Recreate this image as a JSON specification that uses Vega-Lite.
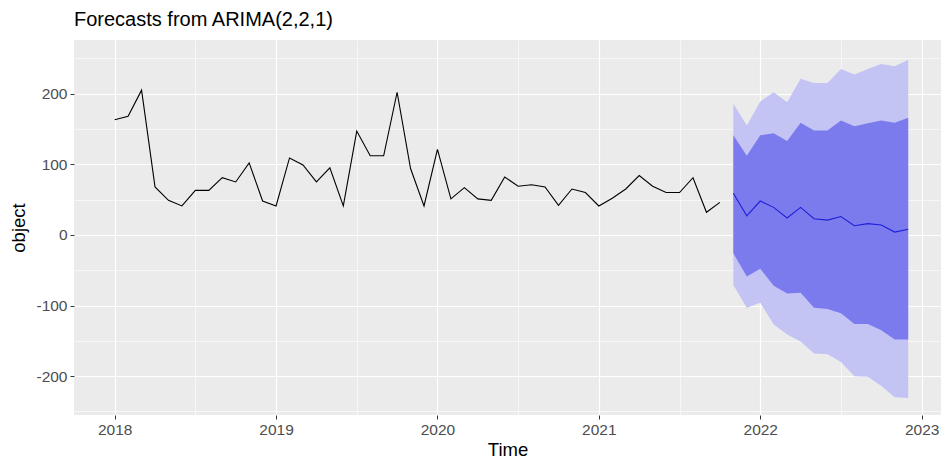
{
  "$schema": "https://vega.github.io/schema/vega-lite/v6.json",
  "width": 867,
  "height": 375,
  "autosize": {"type": "none"},
  "padding": {"left": 74, "top": 40, "right": 0, "bottom": 48},
  "background": "white",
  "title": {"text": "Forecasts from ARIMA(2,2,1)", "anchor": "start", "frame": "group", "font": "Liberation Sans", "fontSize": 20, "fontWeight": "normal", "color": "#000000", "offset": 10},
  "config": {
    "view": {"fill": "#EBEBEB", "stroke": null},
    "axis": {"labelFont": "Liberation Sans", "titleFont": "Liberation Sans", "labelFontSize": 15.5, "labelColor": "#4D4D4D", "titleFontSize": 18.5, "titleFontWeight": "normal", "titleColor": "#000000", "domain": false, "tickColor": "#333333", "tickSize": 4, "gridColor": "#FFFFFF"}
  },
  "resolve": {"axis": {"y": "independent"}},
  "datasets": {
    "hist": [
      {"t": 2018.0000, "v": 163}, {"t": 2018.0833, "v": 168}, {"t": 2018.1667, "v": 205}, {"t": 2018.2500, "v": 68},
      {"t": 2018.3333, "v": 49}, {"t": 2018.4167, "v": 41}, {"t": 2018.5000, "v": 63}, {"t": 2018.5833, "v": 63},
      {"t": 2018.6667, "v": 81}, {"t": 2018.7500, "v": 75}, {"t": 2018.8333, "v": 102}, {"t": 2018.9167, "v": 48},
      {"t": 2019.0000, "v": 41}, {"t": 2019.0833, "v": 109}, {"t": 2019.1667, "v": 99}, {"t": 2019.2500, "v": 75},
      {"t": 2019.3333, "v": 95}, {"t": 2019.4167, "v": 41}, {"t": 2019.5000, "v": 147}, {"t": 2019.5833, "v": 112},
      {"t": 2019.6667, "v": 112}, {"t": 2019.7500, "v": 202}, {"t": 2019.8333, "v": 94}, {"t": 2019.9167, "v": 41},
      {"t": 2020.0000, "v": 121}, {"t": 2020.0833, "v": 51}, {"t": 2020.1667, "v": 67}, {"t": 2020.2500, "v": 51},
      {"t": 2020.3333, "v": 49}, {"t": 2020.4167, "v": 82}, {"t": 2020.5000, "v": 69}, {"t": 2020.5833, "v": 71},
      {"t": 2020.6667, "v": 68}, {"t": 2020.7500, "v": 42}, {"t": 2020.8333, "v": 65}, {"t": 2020.9167, "v": 60},
      {"t": 2021.0000, "v": 41}, {"t": 2021.0833, "v": 52}, {"t": 2021.1667, "v": 65}, {"t": 2021.2500, "v": 84},
      {"t": 2021.3333, "v": 69}, {"t": 2021.4167, "v": 60}, {"t": 2021.5000, "v": 60}, {"t": 2021.5833, "v": 81},
      {"t": 2021.6667, "v": 32}, {"t": 2021.7500, "v": 46}
    ],
    "fc": [
      {"t": 2021.8333, "mean": 59, "lo80": -26, "hi80": 141, "lo95": -71, "hi95": 186},
      {"t": 2021.9167, "mean": 27, "lo80": -59, "hi80": 112, "lo95": -103, "hi95": 155},
      {"t": 2022.0000, "mean": 48, "lo80": -48, "hi80": 141, "lo95": -96, "hi95": 189},
      {"t": 2022.0833, "mean": 39, "lo80": -72, "hi80": 144, "lo95": -127, "hi95": 202},
      {"t": 2022.1667, "mean": 24, "lo80": -83, "hi80": 133, "lo95": -141, "hi95": 188},
      {"t": 2022.2500, "mean": 39, "lo80": -82, "hi80": 159, "lo95": -151, "hi95": 221},
      {"t": 2022.3333, "mean": 23, "lo80": -103, "hi80": 148, "lo95": -168, "hi95": 215},
      {"t": 2022.4167, "mean": 21, "lo80": -105, "hi80": 148, "lo95": -169, "hi95": 215},
      {"t": 2022.5000, "mean": 26, "lo80": -111, "hi80": 162, "lo95": -180, "hi95": 235},
      {"t": 2022.5833, "mean": 13, "lo80": -126, "hi80": 154, "lo95": -200, "hi95": 227},
      {"t": 2022.6667, "mean": 16, "lo80": -126, "hi80": 158, "lo95": -201, "hi95": 235},
      {"t": 2022.7500, "mean": 14, "lo80": -135, "hi80": 162, "lo95": -214, "hi95": 242},
      {"t": 2022.8333, "mean": 4, "lo80": -148, "hi80": 159, "lo95": -230, "hi95": 239},
      {"t": 2022.9167, "mean": 8, "lo80": -148, "hi80": 166, "lo95": -231, "hi95": 248}
    ]
  },
  "layer": [
    {
      "data": {"name": "fc"},
      "mark": {"type": "area", "color": "#C4C4F4", "opacity": 1},
      "encoding": {
        "x": {"field": "t", "type": "quantitative",
              "scale": {"domain": [2017.748, 2023.12], "nice": false, "zero": false},
              "axis": {"title": "Time", "values": [2018, 2018.5, 2019, 2019.5, 2020, 2020.5, 2021, 2021.5, 2022, 2022.5, 2023],
                       "labelExpr": "datum.value % 1 === 0 ? format(datum.value, 'd') : ''",
                       "labelOverlap": false, "labelFlush": false, "labelPadding": 3, "titlePadding": 3,
                       "gridWidth": {"condition": {"test": "datum.value % 1 !== 0", "value": 0.6}, "value": 1.2},
                       "tickOpacity": {"condition": {"test": "datum.value % 1 !== 0", "value": 0}, "value": 1}}},
        "y": {"field": "lo95", "type": "quantitative",
              "scale": {"domain": [-255, 276], "nice": false, "zero": false},
              "axis": {"title": "object", "orient": "left", "values": [-200, -100, 0, 100, 200],
                       "labelExpr": "'' + datum.value",
                       "labelOverlap": false, "labelFlush": false, "labelPadding": 3, "titlePadding": 7,
                       "gridWidth": 1.2}},
        "y2": {"field": "hi95"}
      }
    },
    {
      "data": {"name": "fc"},
      "mark": {"type": "area", "color": "#7B7BEE", "opacity": 1},
      "encoding": {
        "x": {"field": "t", "type": "quantitative"},
        "y": {"field": "lo80", "type": "quantitative", "axis": null},
        "y2": {"field": "hi80"}
      }
    },
    {
      "data": {"name": "fc"},
      "mark": {"type": "line", "color": "#1F1FD9", "strokeWidth": 1.1},
      "encoding": {
        "x": {"field": "t", "type": "quantitative"},
        "y": {"field": "mean", "type": "quantitative", "axis": null}
      }
    },
    {
      "data": {"name": "hist"},
      "mark": {"type": "line", "color": "#000000", "strokeWidth": 1.1},
      "encoding": {
        "x": {"field": "t", "type": "quantitative"},
        "y": {"field": "v", "type": "quantitative",
              "axis": {"orient": "right", "title": null, "values": [-250, -150, -50, 50, 150, 250], "labels": false, "ticks": false, "domain": false, "grid": true, "gridWidth": 0.6}}
      }
    }
  ]
}
